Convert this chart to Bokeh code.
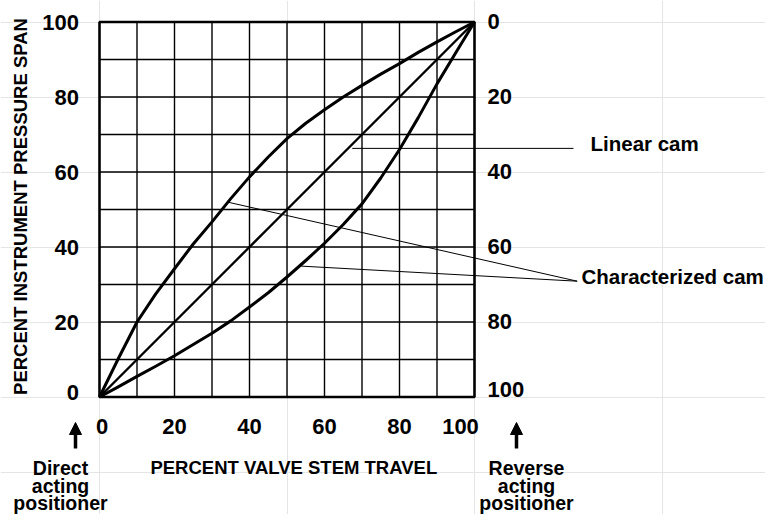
import math
from bokeh.plotting import figure
from bokeh.models import Range1d, Arrow, NormalHead
from bokeh.core.properties import value
from bokeh.embed import file_html
from bokeh.resources import INLINE

# ---------------- data ----------------
travel = [0, 5, 10, 15, 20, 25, 30, 35, 40, 45, 50, 55, 60, 65, 70, 75, 80, 85, 90, 95, 100]
linear_cam = [0, 5, 10, 15, 20, 25, 30, 35, 40, 45, 50, 55, 60, 65, 70, 75, 80, 85, 90, 95, 100]
upper_cam = [0, 10.2, 20, 27.5, 34.2, 40.8, 46.7, 52.9, 58.7, 64, 68.9, 73, 76.6, 80,
             83.1, 86.1, 88.9, 91.9, 94.7, 97.4, 100]
lower_cam = [0, 2.7, 5.5, 8.2, 11, 14, 17, 20.3, 24, 27.8, 32, 36.4, 41, 46,
             51.5, 58.4, 66, 74.5, 83.5, 91.8, 100]

grid_values = [0, 10, 20, 30, 40, 50, 60, 70, 80, 90, 100]
x_tick_values = [0, 20, 40, 60, 80, 100]
x_tick_labels = ["0", "20", "40", "60", "80", "100"]
left_tick_values = [0, 20, 40, 60, 80, 100]
left_tick_labels = ["0", "20", "40", "60", "80", "100"]
right_tick_labels = ["100", "80", "60", "40", "20", "0"]  # reverse scale, bottom to top

x_title = "PERCENT VALVE STEM TRAVEL"
y_title = "PERCENT INSTRUMENT PRESSURE SPAN"
direct_lines = ["Direct", "acting", "positioner"]
reverse_lines = ["Reverse", "acting", "positioner"]

# ---------------- geometry ----------------
W, H = 765, 514
X0, Y0, S = 99.0, 396.5, 3.75   # canvas px of data origin, px per data unit


def cx(px):
    """canvas x pixel -> data x"""
    return (px - X0) / S


def cy(py):
    """canvas y pixel (downwards) -> data y"""
    return (Y0 - py) / S


def dx(px):
    return px / S


def dy(py):
    return -py / S


FONT = value("Liberation Sans")

p = figure(width=W, height=H, x_range=Range1d(cx(0), cx(W)), y_range=Range1d(cy(H), cy(0)),
           toolbar_location=None, output_backend="svg", min_border=0,
           x_axis_location=None, y_axis_location=None)
p.outline_line_color = None
p.background_fill_color = "white"
p.border_fill_color = "white"

# grid
inner = grid_values[1:-1]
p.segment(x0=inner, y0=[0] * len(inner), x1=inner, y1=[100] * len(inner),
          line_color="black", line_width=1.4)
p.segment(x0=[0] * len(inner), y0=inner, x1=[100] * len(inner), y1=inner,
          line_color="black", line_width=1.4)
# border
p.quad(left=[0], right=[100], bottom=[0], top=[100], fill_color=None,
       line_color="black", line_width=2.6)

# curves
p.line(travel, linear_cam, line_color="black", line_width=2.4, line_join="round")
p.line(travel, upper_cam, line_color="black", line_width=3.0, line_join="round")
p.line(travel, lower_cam, line_color="black", line_width=3.0, line_join="round")

# leader lines
p.segment(x0=[67.4], y0=[66.3], x1=[cx(573)], y1=[66.3], line_color="black", line_width=1)
p.segment(x0=[34.5, 53.8], y0=[51.9, 34.9], x1=[cx(576.7)] * 2, y1=[cy(280.7)] * 2,
          line_color="black", line_width=1)

# left tick labels
p.text(x=[dx(-20.5)] * len(left_tick_values),
       y=[v + (dy(-5) if v == 0 else 0) for v in left_tick_values],
       text=left_tick_labels, text_font=FONT, text_font_style="bold",
       text_font_size="22px", text_align="right", text_baseline="middle", text_color="black")

# right tick labels (reverse scale)
p.text(x=[100 + dx(13)] * len(left_tick_values),
       y=[v + (dy(-8) if v == 0 else dy(-1)) for v in left_tick_values],
       text=right_tick_labels, text_font=FONT, text_font_style="bold",
       text_font_size="22px", text_align="left", text_baseline="middle", text_color="black")

# bottom tick labels
p.text(x=[v + (dx(2.5) if v == 0 else (dx(-14) if v == 100 else 0)) for v in x_tick_values],
       y=[dy(29.5)] * len(x_tick_values),
       text=x_tick_labels, text_font=FONT, text_font_style="bold",
       text_font_size="22px", text_align="center", text_baseline="middle", text_color="black")

# axis titles
p.text(x=[cx(293.3)], y=[cy(466.7)], text=[x_title], text_font=FONT, text_font_style="bold",
       text_font_size="18.5px", text_align="center", text_baseline="middle", text_color="black")
p.text(x=[cx(20)], y=[cy(206)], text=[y_title], angle=math.pi / 2, text_font=FONT,
       text_font_style="bold", text_font_size="18.5px", text_align="center",
       text_baseline="middle", text_color="black")

# side annotations
p.text(x=[cx(590)], y=[cy(142.5)], text=["Linear cam"], text_font=FONT, text_font_style="bold",
       text_font_size="20.5px", text_align="left", text_baseline="middle", text_color="black")
p.text(x=[cx(581)], y=[cy(275.8)], text=["Characterized cam"], text_font=FONT,
       text_font_style="bold", text_font_size="20.5px", text_align="left",
       text_baseline="middle", text_color="black")

# positioner notes
line_centers = [467, 485, 502]
p.text(x=[cx(60)] * 3, y=[cy(b) for b in line_centers], text=direct_lines, text_font=FONT,
       text_font_style="bold", text_font_size="19.5px", text_align="center",
       text_baseline="middle", text_color="black")
p.text(x=[cx(526)] * 3, y=[cy(b) for b in line_centers], text=reverse_lines, text_font=FONT,
       text_font_style="bold", text_font_size="19.5px", text_align="center",
       text_baseline="middle", text_color="black")

for ax in (cx(75), cx(516)):
    p.add_layout(Arrow(end=NormalHead(size=12, fill_color="black", line_color="black", line_width=1),
                       x_start=ax, y_start=cy(448), x_end=ax, y_end=cy(422),
                       line_color="black", line_width=3.5))

open("out.html", "w").write(file_html(p, INLINE))
